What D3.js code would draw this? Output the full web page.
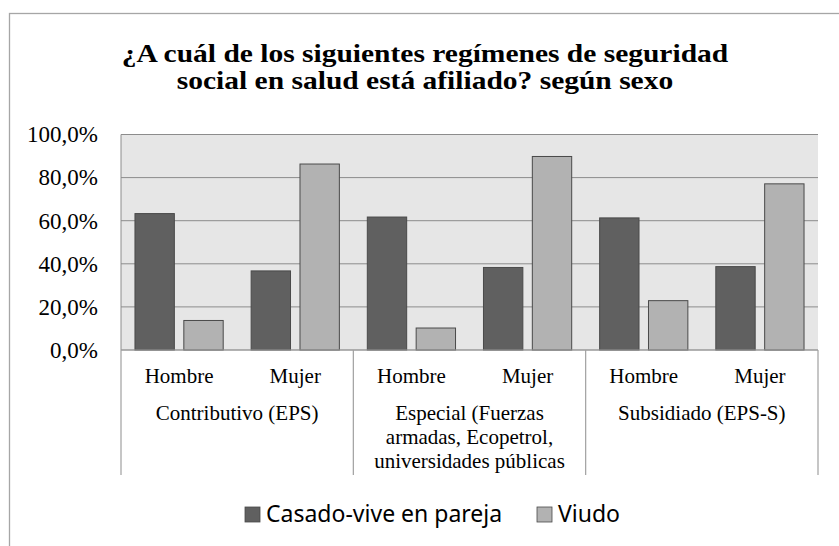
<!DOCTYPE html>
<html><head><meta charset="utf-8">
<script src="https://cdn.jsdelivr.net/npm/d3@7"></script>
<style>body{margin:0;background:#fff} .serif{font-family:"Liberation Serif","Times New Roman",Times,serif}</style>
</head><body>
<svg id="c" width="839" height="546"></svg>
<script>
const titleLines = ["¿A cuál de los siguientes regímenes de seguridad", "social en salud está afiliado? según sexo"];
const categories = ["Contributivo (EPS)", "Especial (Fuerzas armadas, Ecopetrol, universidades públicas", "Subsidiado (EPS-S)"];
const categoryLines = [["Contributivo (EPS)"], ["Especial (Fuerzas", "armadas, Ecopetrol,", "universidades públicas"], ["Subsidiado (EPS-S)"]];
const sexes = ["Hombre", "Mujer"];
const seriesNames = ["Casado-vive en pareja", "Viudo"];
// values in %, order: category x sex
const casado = [63.3, 36.7, 61.7, 38.3, 61.3, 38.7];
const viudo = [13.7, 86.3, 10.2, 89.8, 22.9, 77.1];
const yTicks = [0, 20, 40, 60, 80, 100];
const colors = ["#606060", "#b2b2b2"];

const svg = d3.select("#c");
const L = 121, R = 818, T = 134.5, B = 350;

// outer frame
svg.append("rect").attr("x", 9.5).attr("y", 13.5).attr("width", 900).attr("height", 600)
  .attr("fill", "none").attr("stroke", "#a6a6a6").attr("stroke-width", 1.3);

// title (glyphs horizontally stretched as in the reference)
svg.append("g").attr("transform", "translate(425,0) scale(1.18,1)")
  .selectAll("text").data(titleLines).join("text")
  .attr("class", "serif")
  .attr("x", 0).attr("y", (d, i) => 62 + i * 27.5)
  .attr("text-anchor", "middle")
  .attr("font-weight", "bold").attr("font-size", 25).attr("fill", "#000").text(d => d);

const x0 = d3.scaleBand().domain(categories).range([L, R]);
const x1 = d3.scaleBand().domain(sexes).range([0, x0.bandwidth()]);
const x2 = d3.scaleBand().domain(seriesNames).range([0, x1.bandwidth()]).paddingInner(0.194).paddingOuter(0.286);
const y = d3.scaleLinear().domain([0, 100]).range([B, T]);

// plot background
svg.append("rect").attr("x", L).attr("y", T).attr("width", R - L).attr("height", B - T).attr("fill", "#e6e6e6");
// gridlines
svg.append("g").selectAll("line").data(yTicks).join("line")
  .attr("x1", L).attr("x2", R).attr("y1", d => y(d)).attr("y2", d => y(d))
  .attr("stroke", "#8c8c8c").attr("stroke-width", 1);
svg.append("line").attr("x1", L).attr("x2", L).attr("y1", T).attr("y2", B).attr("stroke", "#8c8c8c");

// y axis labels
const loc = d3.formatLocale({decimal: ",", thousands: ".", grouping: [3], currency: ["", ""]});
const fmt = loc.format(".1f");
const yAxis = d3.axisLeft(y).tickValues(yTicks).tickSize(0).tickPadding(0).tickFormat(d => fmt(d) + "%");
const ya = svg.append("g").attr("transform", `translate(98,0)`).call(yAxis);
ya.select(".domain").remove();
ya.attr("font-family", null);
ya.selectAll("text").attr("class", "serif").attr("font-size", 23).attr("fill", "#000");

// bars
const rows = [];
categories.forEach((c, ci) => sexes.forEach((s, si) => {
  const k = ci * 2 + si;
  rows.push({c, s, ser: seriesNames[0], v: casado[k], col: colors[0]});
  rows.push({c, s, ser: seriesNames[1], v: viudo[k], col: colors[1]});
}));
svg.append("g").selectAll("rect").data(rows).join("rect")
  .attr("x", d => x0(d.c) + x1(d.s) + x2(d.ser))
  .attr("width", x2.bandwidth())
  .attr("y", d => y(d.v)).attr("height", d => B - y(d.v))
  .attr("fill", d => d.col).attr("stroke", "#4a4a4a").attr("stroke-width", 1);

// category axis
const axg = svg.append("g");
axg.append("line").attr("x1", L).attr("x2", R).attr("y1", B).attr("y2", B).attr("stroke", "#a0a0a0").attr("stroke-width", 1.2);
const dividers = categories.map(c => x0(c)).concat([R]);
axg.selectAll("line.div").data(dividers).join("line").attr("class", "div")
  .attr("x1", d => d).attr("x2", d => d).attr("y1", B).attr("y2", 475)
  .attr("stroke", "#a0a0a0").attr("stroke-width", 1.2);
categories.forEach(c => sexes.forEach(s => {
  axg.append("text").attr("class", "serif").attr("x", x0(c) + x1(s) + x1.bandwidth() / 2).attr("y", 383)
    .attr("text-anchor", "middle").attr("font-size", 21)
    .attr("fill", "#000").text(s);
}));
categories.forEach((c, ci) => {
  axg.selectAll(null).data(categoryLines[ci]).join("text").attr("class", "serif")
    .attr("x", x0(c) + x0.bandwidth() / 2).attr("y", (d, i) => 420 + i * 24.2)
    .attr("text-anchor", "middle").attr("font-size", 21)
    .attr("fill", "#000").text(d => d);
});

// legend
const legX = [245, 537];
const lg = svg.append("g").selectAll("g").data(seriesNames).join("g")
  .attr("transform", (d, i) => `translate(${legX[i]},507)`);
lg.append("rect").attr("width", 15).attr("height", 15).attr("fill", (d, i) => colors[i]).attr("stroke", "#4a4a4a").attr("stroke-width", 0.8);
lg.append("text").attr("x", 21).attr("y", 15).attr("font-family", "Noto Sans").attr("font-size", 23)
  .attr("fill", "#000").text(d => d);
</script>
</body></html>
